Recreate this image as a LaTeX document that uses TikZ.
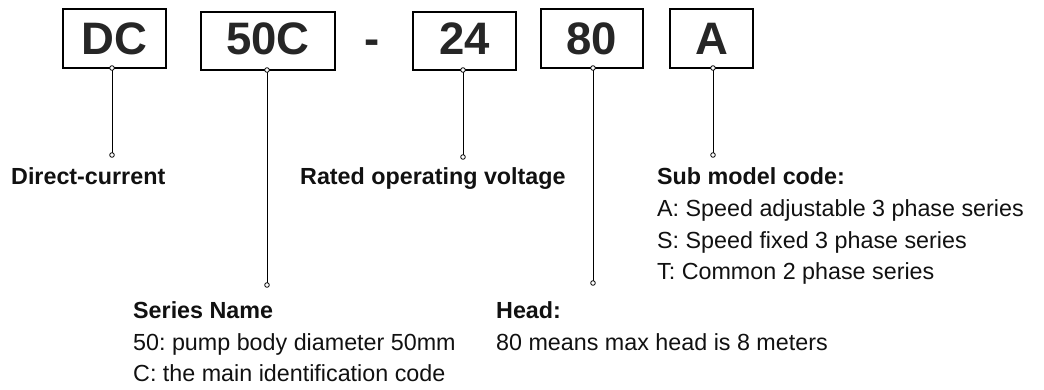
\documentclass[tikz,border=0pt]{standalone}
\usepackage{fontspec}
\setmainfont{Liberation Sans}
\definecolor{boxtxt}{RGB}{38,38,38}
\definecolor{labtxt}{RGB}{17,17,17}
\frenchspacing
\begin{document}
\begin{tikzpicture}[x=1pt,y=-1pt,
  codebox/.style={draw=black,line width=1.3pt,inner sep=0pt,text depth=0pt,
    font=\fontsize{45.5}{54}\selectfont\bfseries,text=boxtxt},
  hd/.style={anchor=base west,inner sep=0pt,font=\fontsize{23.3}{28}\selectfont\bfseries,text=labtxt},
  bd/.style={anchor=base west,inner sep=0pt,font=\fontsize{23.3}{28}\selectfont,text=labtxt},
  conn/.style={line width=0.9pt,black},
  pin/.style={draw=black,fill=white,line width=0.8pt}]
\useasboundingbox[fill=white] (0,0) rectangle (1044,390);
% boxes
\node[codebox,text height=33pt,minimum width=103pt,minimum height=59pt] (dc) at (114.5,38.5) {DC};
\node[codebox,text height=28pt,minimum width=134pt,minimum height=58pt] (s50) at (268,41) {50C};
\node[inner sep=0pt,font=\fontsize{45.5}{54}\selectfont\bfseries,text=boxtxt,anchor=base] (dash) at (372.5,55) {-};
\node[codebox,text height=28pt,minimum width=103pt,minimum height=58pt] (v24) at (464.5,41) {24};
\node[codebox,text height=33pt,minimum width=102pt,minimum height=59pt] (h80) at (592,38.5) {80};
\node[codebox,text height=33pt,minimum width=83pt,minimum height=59pt] (suba) at (711.5,38.5) {A};
% connector ends
\coordinate (t1) at (112,68);   \coordinate (b1) at (112,155);
\coordinate (t2) at (267,70);   \coordinate (b2) at (267,285);
\coordinate (t3) at (463,70);   \coordinate (b3) at (463,157);
\coordinate (t4) at (593,68);   \coordinate (b4) at (593,283);
\coordinate (t5) at (713,68);   \coordinate (b5) at (713,155);
\foreach \i in {1,...,5}{
  \draw[conn] (t\i) -- (b\i);
  \fill[pin] (t\i) circle (2.3pt);
  \fill[pin] (b\i) circle (2.3pt);
}
% labels
\node[hd] (lbdc) at (11,185) {Direct-current};
\node[hd] (lbv) at (300,185) {Rated operating voltage};
\node[hd] (lbsub) at (657,185) {Sub model code:};
\node[bd] (sub1) at (657,217) {A: Speed adjustable 3 phase series};
\node[bd] (sub2) at (657,248) {S: Speed fixed 3 phase series};
\node[bd] (sub3) at (657,279) {T: Common 2 phase series};
\node[hd] (lbser) at (133,318) {Series Name};
\node[bd] (ser1) at (133,350) {50: pump body diameter 50mm};
\node[bd] (ser2) at (133,381) {C: the main identification code};
\node[hd] (lbhead) at (496,318) {Head:};
\node[bd] (head1) at (496,350) {80 means max head is 8 meters};
\end{tikzpicture}
\end{document}
